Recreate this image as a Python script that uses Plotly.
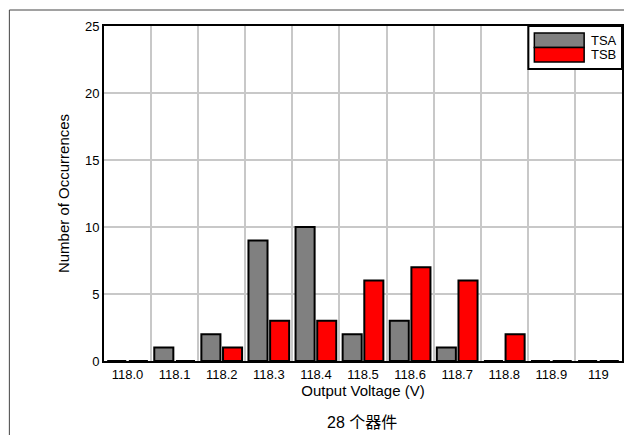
import plotly.graph_objects as go

categories = ["118.0", "118.1", "118.2", "118.3", "118.4", "118.5",
              "118.6", "118.7", "118.8", "118.9", "119"]
tsa = [0, 1, 2, 9, 10, 2, 3, 1, 0, 0, 0]
tsb = [0, 0, 1, 3, 3, 6, 7, 6, 2, 0, 0]
series_names = ["TSA", "TSB"]
series_colors = ["#808080", "#ff0000"]
y_ticks = [0, 5, 10, 15, 20, 25]

FONT = "Liberation Sans, Arial, Noto Sans CJK SC, sans-serif"

fig = go.Figure()
for name, vals, col in zip(series_names, [tsa, tsb], series_colors):
    fig.add_trace(go.Bar(
        x=categories, y=vals, name=name,
        marker=dict(color=col, line=dict(color="black", width=2)),
        showlegend=False,
    ))

fig.update_layout(
    width=625, height=435,
    margin=dict(l=104, r=1, t=26, b=74),
    paper_bgcolor="white", plot_bgcolor="white",
    barmode="group", bargap=0.08, bargroupgap=0.12,
    font=dict(family=FONT, size=13, color="black"),
    xaxis=dict(
        type="category", tickson="boundaries", showgrid=True,
        gridcolor="#c8c8c8", gridwidth=1.5,
        showline=True, linecolor="black", linewidth=2, mirror=True,
        ticks="", tickfont=dict(size=13),
        title=dict(text="Output Voltage (V)", font=dict(size=15), standoff=1),
    ),
    yaxis=dict(
        range=[0, 25], tickvals=y_ticks, showgrid=True,
        gridcolor="#c8c8c8", gridwidth=1.5, zeroline=False,
        showline=True, linecolor="black", linewidth=2, mirror=True,
        ticks="", tickfont=dict(size=13),
        title=dict(text="Number of Occurrences", font=dict(size=15), standoff=12),
    ),
)

def px_x(v):
    return (v - 104) / 520

def px_y(v):
    return (361 - v) / 335

# outer frame lines (left and top)
fig.add_shape(type="line", xref="paper", yref="paper",
              x0=px_x(9), x1=px_x(626), y0=px_y(10), y1=px_y(10),
              line=dict(color="#444444", width=1))
fig.add_shape(type="line", xref="paper", yref="paper",
              x0=px_x(9), x1=px_x(9), y0=px_y(10), y1=px_y(440),
              line=dict(color="#444444", width=1))

# legend box
fig.add_shape(type="rect", xref="paper", yref="paper",
              x0=px_x(530), x1=px_x(624), y0=px_y(69), y1=px_y(26),
              line=dict(color="black", width=2), fillcolor="white", layer="above")
sw_top = [33, 47.5]
for i, (name, col) in enumerate(zip(series_names, series_colors)):
    t = sw_top[i]
    fig.add_shape(type="rect", xref="paper", yref="paper",
                  x0=px_x(536), x1=px_x(586), y0=px_y(t + 14.5), y1=px_y(t),
                  line=dict(color="black", width=1.5), fillcolor=col, layer="above")
    fig.add_annotation(xref="paper", yref="paper", x=px_x(591), y=px_y(t + 7.2),
                       text=name, showarrow=False, xanchor="left", yanchor="middle",
                       font=dict(size=13, family=FONT))

fig.add_annotation(xref="paper", yref="paper", x=px_x(363), y=px_y(422),
                   text="28 个器件", showarrow=False, xanchor="center", yanchor="middle",
                   font=dict(size=16, family=FONT))

fig.write_html("out.html")
